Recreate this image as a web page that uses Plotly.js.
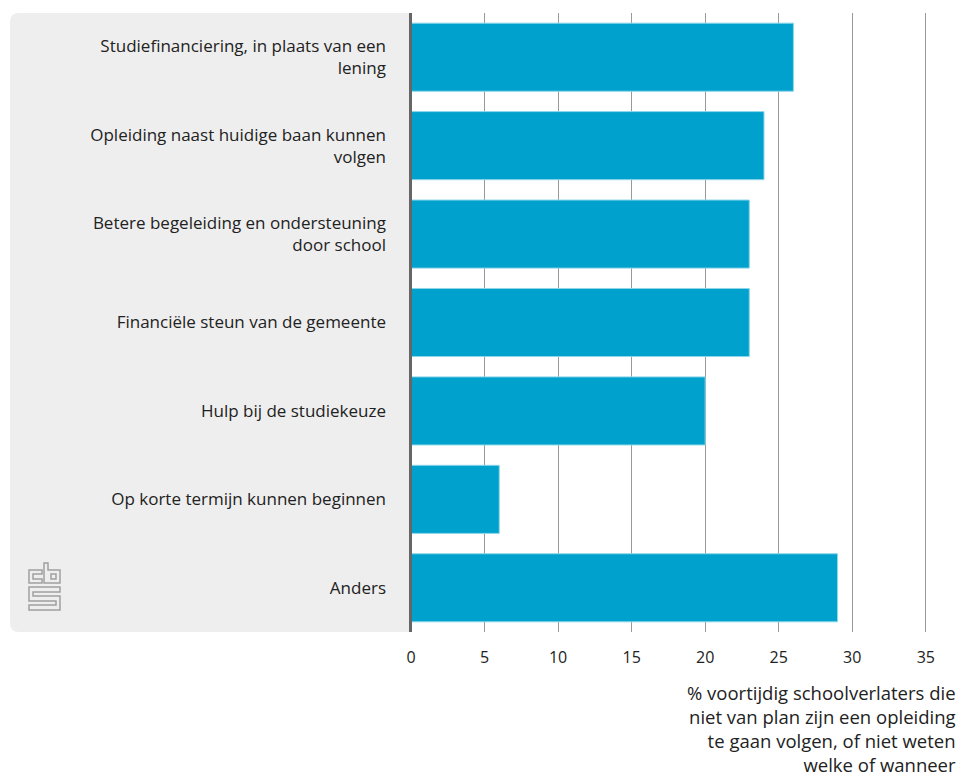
<!DOCTYPE html>
<html>
<head>
<meta charset="utf-8">
<script src="https://cdn.plot.ly/plotly-3.0.1.min.js"></script>
<style>
  html, body { margin: 0; padding: 0; background: #ffffff; }
  #chart { width: 961px; height: 776px; }
</style>
</head>
<body>
<div id="chart"></div>
<script>
// Data
const categories = [
  "Studiefinanciering, in plaats van een<br>lening",
  "Opleiding naast huidige baan kunnen<br>volgen",
  "Betere begeleiding en ondersteuning<br>door school",
  "Financiële steun van de gemeente",
  "Hulp bij de studiekeuze",
  "Op korte termijn kunnen beginnen",
  "Anders"
];
const values = [26, 24, 23, 23, 20, 6, 29];
const xTickValues = [0, 5, 10, 15, 20, 25, 30, 35];
const xTickLabels = ["0", "5", "10", "15", "20", "25", "30", "35"];
const xAxisTitle = "% voortijdig schoolverlaters die<br>niet van plan zijn een opleiding<br>te gaan volgen, of niet weten<br>welke of wanneer";

// Layout geometry (pixels)
const W = 961, H = 776;
const M = { l: 411, r: 33, t: 13, b: 144 };
const pw = W - M.l - M.r, ph = H - M.t - M.b;
const px = x => ((x - M.l) / pw).toFixed(5);
const py = y => ((H - M.b - y) / ph).toFixed(5);
function path(points, close) {
  return points.map((p, i) => (i === 0 ? "M" : "L") + px(p[0]) + "," + py(p[1])).join(" ") + (close ? " Z" : "");
}

// Grey panel with rounded left corners
const r = 9;
const x0 = 10, x1 = 411, y0 = 13, y1 = 632;
const panelPath =
  "M" + px(x1) + "," + py(y0) +
  " L" + px(x0 + r) + "," + py(y0) +
  " Q" + px(x0) + "," + py(y0) + " " + px(x0) + "," + py(y0 + r) +
  " L" + px(x0) + "," + py(y1 - r) +
  " Q" + px(x0) + "," + py(y1) + " " + px(x0 + r) + "," + py(y1) +
  " L" + px(x1) + "," + py(y1) + " Z";

const logoColor = "#a0a0a0";
const logoShapes = [
  path([[42,570],[29,570],[29,583],[42,583],[42,579],[33,579],[33,574],[42,574]], true),
  path([[44,563],[48,563],[48,570],[60,570],[60,583],[44,583]], true),
  path([[51,574],[56,574],[56,579],[51,579]], true),
  path([[29,587],[60,587],[60,592],[33,592],[33,596],[60,596],[60,610],[29,610],[29,605],[56,605],[56,601],[29,601]], true)
].map(d => ({
  type: "path", xref: "paper", yref: "paper", path: d,
  line: { color: logoColor, width: 1.5 }, fillcolor: "rgba(0,0,0,0)", layer: "above"
}));

const shapes = [
  { type: "path", xref: "paper", yref: "paper", path: panelPath,
    fillcolor: "#eeeeee", line: { width: 0 }, layer: "below" },
  ...logoShapes,
  { type: "line", xref: "paper", yref: "paper", x0: px(410.5), x1: px(410.5), y0: 0, y1: 1,
    line: { color: "#666666", width: 3 }, layer: "above" }
];

const trace = {
  type: "bar",
  orientation: "h",
  y: categories,
  x: values,
  marker: { color: "#00a1cd", line: { color: "#8fd6ea", width: 1 } },
  hoverinfo: "x+y"
};

const font = "'Open Sans', 'Noto Sans', sans-serif";

const layout = {
  width: W, height: H,
  margin: M,
  paper_bgcolor: "#ffffff",
  plot_bgcolor: "rgba(0,0,0,0)",
  showlegend: false,
  bargap: 0.23,
  font: { family: font, size: 17, color: "#222222" },
  xaxis: {
    range: [0, 35.15],
    tickvals: xTickValues,
    ticktext: xTickLabels,
    showgrid: true,
    gridcolor: "#999999",
    gridwidth: 1,
    zeroline: false,
    showline: false,
    ticks: "",
    ticklabelstandoff: 14,
    tickfont: { family: font, size: 16, color: "#222222" },
    fixedrange: true
  },
  yaxis: {
    type: "category",
    autorange: "reversed",
    showgrid: false,
    zeroline: false,
    showline: false,
    ticks: "",
    ticklabelstandoff: 24,
    tickfont: { family: font, size: 17, color: "#222222" },
    fixedrange: true
  },
  shapes: shapes,
  annotations: [{
    xref: "paper", yref: "paper",
    x: px(958), y: py(678),
    xanchor: "right", yanchor: "top",
    align: "right",
    showarrow: false,
    text: xAxisTitle,
    font: { family: font, size: 18.5, color: "#222222" }
  }]
};

Plotly.newPlot("chart", [trace], layout, { displayModeBar: false, staticPlot: true });
</script>
</body>
</html>
